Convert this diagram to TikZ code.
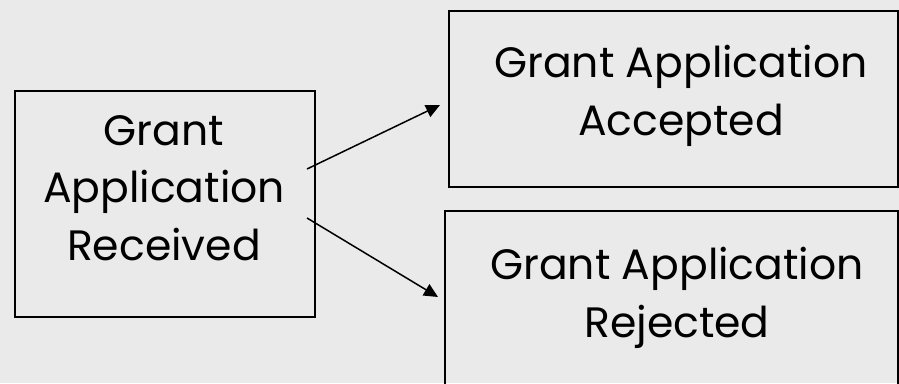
\documentclass[tikz,border=0pt]{standalone}
\usepackage{fontspec}
\setmainfont{Poppins}
\usetikzlibrary{arrows.meta}
\usetikzlibrary{positioning}
\definecolor{bgcol}{HTML}{EAEAEA}

\begin{document}
\begin{tikzpicture}[x=1pt,y=-1pt,
	box/.style={draw,line width=2.4pt,inner sep=0pt,anchor=north west},
	txt/.style={align=center,font=\fontsize{42.5}{57.5}\selectfont,inner sep=0pt},
	arr/.style={line width=1.5pt,-{Triangle[length=14pt,width=13pt]}}]
	\fill[bgcol] (0,0) rectangle (899,383);
	\useasboundingbox (0,0) rectangle (899,383);
	\clip (0,0) rectangle (899,383);
	% boxes
	\node[box,minimum width=300pt,minimum height=226pt] (rec) at (14,90) {};
	\node[box,minimum width=449pt,minimum height=176pt] (acc) at (448,10) {};
	\node[box,minimum width=453pt,minimum height=200pt] (rej) at (444,210) {};
	% texts
	\node[txt,anchor=base] (rectxt) at (164,260) {Grant\\Application\\Received};
	\node[txt,anchor=base] (acctxt) at (681,135) {Grant Application\\Accepted};
	\node[txt,anchor=base] (rejtxt) at (677,337) {Grant Application\\Rejected};
	% arrow ends
	\coordinate (s1) at (307,169);
	\coordinate (t1) at (440,105);
	\coordinate (s2) at (307,218);
	\coordinate (t2) at (438,297);
	\draw[arr] (s1) -- (t1);
	\draw[arr] (s2) -- (t2);
\end{tikzpicture}
\end{document}
